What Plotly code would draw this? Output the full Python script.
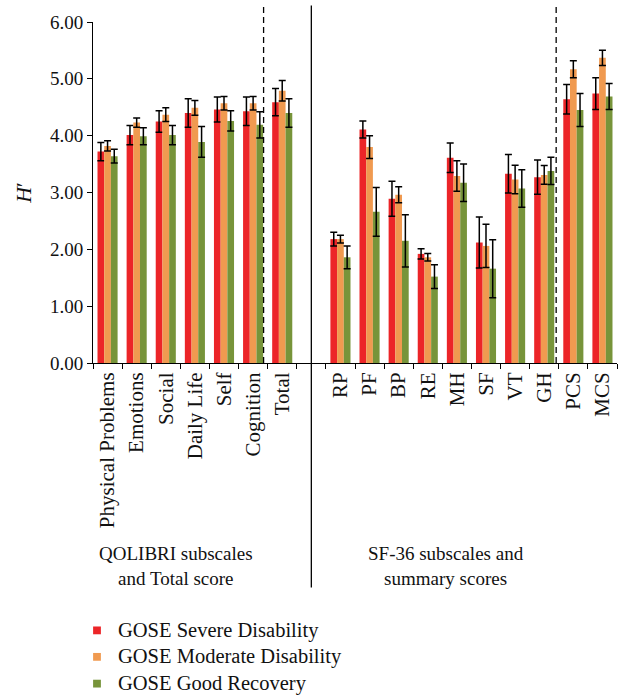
import plotly.graph_objects as go

# Categories: QOLIBRI block, an empty spacer slot, then the SF-36 block
qolibri_cats = ["Physical Problems", "Emotions", "Social", "Daily Life", "Self", "Cognition", "Total"]
spacer = [" "]
sf36_cats = ["RP", "PF", "BP", "RE", "MH", "SF", "VT", "GH", "PCS", "MCS"]
categories = qolibri_cats + spacer + sf36_cats

# Mean H' per GOSE group (None in the spacer slot)
severe = [3.72, 4.01, 4.25, 4.40, 4.46, 4.43, 4.59, None,
          2.18, 4.11, 2.89, 1.92, 3.61, 2.12, 3.33, 3.27, 4.64, 4.74]
severe_err = [0.16, 0.17, 0.19, 0.25, 0.22, 0.25, 0.24, None,
              0.12, 0.15, 0.31, 0.09, 0.26, 0.45, 0.34, 0.30, 0.26, 0.28]
moderate = [3.82, 4.23, 4.37, 4.49, 4.57, 4.57, 4.79, None,
            2.18, 3.80, 2.96, 1.86, 3.29, 2.06, 3.23, 3.31, 5.17, 5.37]
moderate_err = [0.09, 0.08, 0.12, 0.13, 0.12, 0.12, 0.18, None,
                0.07, 0.20, 0.14, 0.065, 0.27, 0.38, 0.25, 0.165, 0.15, 0.135]
good = [3.64, 3.99, 4.01, 3.89, 4.26, 4.19, 4.40, None,
        1.86, 2.66, 2.15, 1.52, 3.17, 1.66, 3.07, 3.38, 4.45, 4.69]
good_err = [0.12, 0.15, 0.17, 0.27, 0.18, 0.23, 0.25, None,
            0.20, 0.43, 0.46, 0.21, 0.33, 0.51, 0.33, 0.24, 0.29, 0.23]

series_names = ["GOSE Severe Disability", "GOSE Moderate Disability", "GOSE Good Recovery"]
series_colors = ["#EC2528", "#F09A50", "#77943A"]
y_ticks = [0, 1, 2, 3, 4, 5, 6]

FONT = "Liberation Serif, Times New Roman, serif"
TXT = "#111"

fig = go.Figure()
for name, vals, errs, col in zip(series_names, [severe, moderate, good],
                                 [severe_err, moderate_err, good_err], series_colors):
    fig.add_trace(go.Bar(
        x=categories, y=vals, name=name, marker=dict(color=col, line=dict(width=0)),
        error_y=dict(type="data", array=errs, visible=True, color="black",
                     thickness=1.5, width=3.5),
        showlegend=False,
    ))

# plot-area geometry in pixels
W, H = 626, 699
L, R, T, B = 92.7, 8.7, 21.9, 335.7
pw, ph = W - L - R, H - T - B


def px_x(p):
    return (p - L) / pw


def px_y(p):
    return (H - B - p) / ph


top = px_y(5.5)
# dashed separators (before Total, before PCS) and the solid block divider
fig.add_shape(type="line", xref="x", yref="paper", x0=5.36, x1=5.36, y0=0, y1=top,
              line=dict(color="black", width=1.3, dash="6px,4px"))
fig.add_shape(type="line", xref="x", yref="paper", x0=15.41, x1=15.41, y0=0, y1=top,
              line=dict(color="black", width=1.3, dash="6px,4px"))
fig.add_shape(type="line", xref="x", yref="paper", x0=7, x1=7, y0=px_y(588), y1=top,
              line=dict(color="black", width=1.3))

# block captions
fig.add_annotation(text="QOLIBRI subscales<br>and Total score", xref="paper", yref="paper",
                   x=px_x(175.5), y=px_y(567), showarrow=False, xanchor="center",
                   yanchor="middle", font=dict(family=FONT, size=19, color=TXT))
fig.add_annotation(text="SF-36 subscales and<br>summary scores", xref="paper", yref="paper",
                   x=px_x(446), y=px_y(567), showarrow=False, xanchor="center",
                   yanchor="middle", font=dict(family=FONT, size=19, color=TXT))

# legend: small square swatches with labels below the chart
legend_rows = [631, 657.5, 684.3]
for name, col, ry in zip(series_names, series_colors, legend_rows):
    fig.add_shape(type="rect", xref="paper", yref="paper",
                  x0=px_x(92.8), x1=px_x(100.6), y0=px_y(ry - 3.9), y1=px_y(ry + 3.9),
                  fillcolor=col, line=dict(width=0))
    fig.add_annotation(text=name, xref="paper", yref="paper", x=px_x(116), y=px_y(ry),
                       showarrow=False, xanchor="left", yanchor="middle",
                       font=dict(family=FONT, size=20.5, color=TXT))

fig.update_layout(
    width=W, height=H,
    margin=dict(l=L, r=R, t=T, b=B, pad=0, autoexpand=False),
    plot_bgcolor="white", paper_bgcolor="white",
    barmode="group", bargap=0.31, bargroupgap=0,
    font=dict(family=FONT, size=19, color=TXT),
    showlegend=False,
    xaxis=dict(
        type="category", categoryorder="array", categoryarray=categories,
        tickson="boundaries", ticks="outside", ticklen=5, tickcolor="black", tickwidth=1,
        tickangle=-90, showline=True, linecolor="black", linewidth=1,
        showgrid=False, zeroline=False, range=[-0.5, 17.5],
        tickfont=dict(family=FONT, size=21, color=TXT),
    ),
    yaxis=dict(
        range=[0, 6], tickvals=y_ticks, tickformat=".2f", ticks="outside", ticklen=5,
        tickcolor="black", tickwidth=1, showline=True, linecolor="black", linewidth=1,
        showgrid=False, zeroline=False,
        tickfont=dict(family=FONT, size=19, color=TXT),
        title=dict(text="<i>H</i>′", font=dict(family=FONT, size=22, color=TXT),
                   standoff=12),
    ),
)

fig.write_html("out.html")
